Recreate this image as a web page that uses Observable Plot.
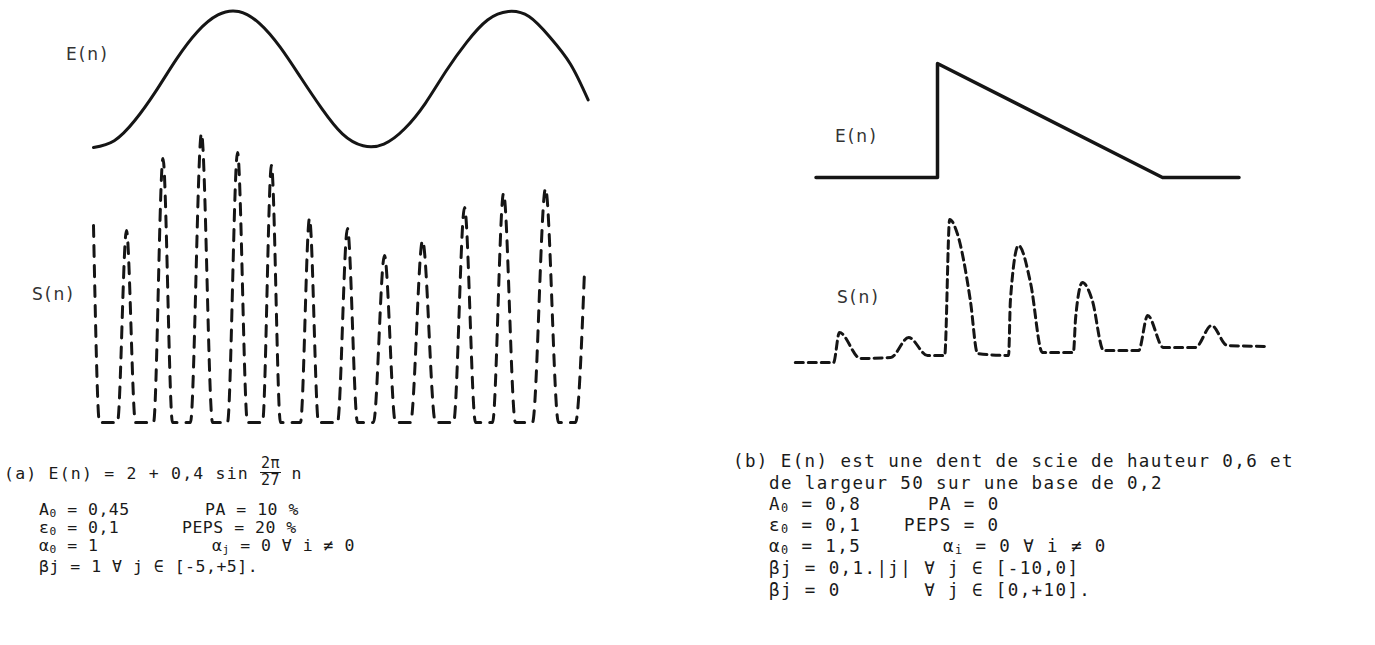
<!DOCTYPE html>
<html><head><meta charset="utf-8">
<script src="https://cdn.jsdelivr.net/npm/d3@7"></script>
<script src="https://cdn.jsdelivr.net/npm/@observablehq/plot@0.6"></script>
<style>
body{margin:0;background:#fff;width:1375px;height:645px;overflow:hidden;position:relative;color:#1a1a1a}
.lbl{position:absolute;font-family:"DejaVu Sans",sans-serif;font-size:17px;letter-spacing:2px;color:#333;line-height:1}
.cap{position:absolute;font-family:"DejaVu Sans Mono",monospace;white-space:pre;line-height:1;color:#1a1a1a}
.capL{font-size:16.5px;letter-spacing:0.5px}
.capR{font-size:17.5px;letter-spacing:1.4px}
.wide{letter-spacing:1.2px}
sub{font-size:0.68em;vertical-align:baseline;position:relative;top:0.2em;line-height:0}
.frac{display:inline-block;vertical-align:middle;text-align:center;font-size:15px;line-height:1.05;position:relative;top:-2px}
.frac span{display:block}
.frac .num{border-bottom:1.5px solid #1a1a1a;padding:0 1px}
</style></head><body>
<script>
// ---- Panel (a): E(n) sine input ----
const aEn = [0, 2, 4, 6, 8, 10, 12, 14, 16, 18, 20, 22, 24, 26, 28, 30, 32, 34, 36, 38, 40, 42, 44, 46, 47.7];
const aEv = [1.60, 1.64, 1.76, 1.93, 2.12, 2.28, 2.38, 2.40, 2.33, 2.19, 2.01, 1.83, 1.68, 1.61, 1.62, 1.71, 1.86, 2.05, 2.22, 2.35, 2.40, 2.37, 2.25, 2.09, 1.88];
// ---- Panel (a): S(n) dashed output ----
const aSn = [0, 0.58, 2.31, 3.18, 4.05, 5.79, 6.70, 7.62, 9.35, 10.41, 11.48, 12.92, 13.89, 14.85, 16.30, 17.16, 18.03, 19.96, 20.83, 21.70, 23.53, 24.49, 25.46, 27.00, 28.06, 29.12, 30.57, 31.73, 32.98, 34.72, 35.78, 36.84, 38.48, 39.54, 40.69, 42.33, 43.59, 44.84, 46.48, 47.35];
const aSv = [1.97, 0, 0, 1.92, 0, 0, 2.64, 0, 0, 2.89, 0, 0, 2.70, 0, 0, 2.57, 0, 0, 2.04, 0, 0, 1.94, 0, 0, 1.67, 0, 0, 1.82, 0, 0, 2.15, 0, 0, 2.29, 0, 0, 2.34, 0, 0, 1.52];
// ---- Panel (b): E(n) sawtooth ----
const bEn = [-27, 0, 0, 50, 67];
const bEv = [0.2, 0.2, 0.8, 0.2, 0.2];
// ---- Panel (b): S(n) dashed output ----
const bSn = [-31.6, -23.1, -21.8, -17.1, -10.4, -6.4, -2.2, 1.6, 2.7, 4.4, 7.3, 8.9, 15.8, 16.2, 18.0, 20.7, 23.3, 30.2, 30.7, 32.2, 34.4, 36.9, 44.7, 46.7, 50.2, 57.3, 60.9, 64.4, 73.6];
const bSv = [0, 0, 0.30, 0.04, 0.05, 0.25, 0.07, 0.07, 1.43, 1.29, 0.62, 0.09, 0.07, 0.62, 1.17, 0.79, 0.10, 0.10, 0.45, 0.80, 0.62, 0.12, 0.12, 0.47, 0.15, 0.15, 0.37, 0.17, 0.16];

// ---- texts ----
const seriesLabels = [
  {t: "E(n)", x: 66, y: 55},
  {t: "S(n)", x: 32, y: 295},
  {t: "E(n)", x: 835, y: 137},
  {t: "S(n)", x: 837, y: 298}
];
const capA = [
  {h: "<span class='wide'>(a) E(n) = 2 + 0,4 sin </span><span class='frac'><span class='num'>2π</span><span>27</span></span> n", x: 4, y: 467},
  {h: "A<sub>0</sub> = 0,45", x: 39, y: 511},
  {h: "PA = 10 %", x: 205, y: 511},
  {h: "ε<sub>0</sub> = 0,1", x: 39, y: 529},
  {h: "PEPS = 20 %", x: 182, y: 529},
  {h: "α<sub>0</sub> = 1", x: 39, y: 547},
  {h: "α<sub>j</sub> = 0 ∀ i ≠ 0", x: 212, y: 547},
  {h: "βj = 1 ∀ j ∈ [-5,+5].", x: 39, y: 568}
];
const capB = [
  {h: "(b) E(n) est une dent de scie de hauteur 0,6 et", x: 733, y: 462},
  {h: "de largeur 50 sur une base de 0,2", x: 769, y: 484},
  {h: "A<sub>0</sub> = 0,8", x: 769, y: 505},
  {h: "PA = 0", x: 928, y: 505},
  {h: "ε<sub>0</sub> = 0,1", x: 769, y: 526},
  {h: "PEPS = 0", x: 904, y: 526},
  {h: "α<sub>0</sub> = 1,5", x: 769, y: 547},
  {h: "α<sub>i</sub> = 0 ∀ i ≠ 0", x: 943, y: 547},
  {h: "βj = 0,1.|j| ∀ j ∈ [-10,0]", x: 769, y: 569},
  {h: "βj = 0       ∀ j ∈ [0,+10].", x: 769, y: 591}
];

const ink = "#151515";
function place(el, left, top) {
  el.style.position = "absolute";
  el.style.left = left + "px";
  el.style.top = top + "px";
  document.body.appendChild(el);
}
const base = {style: {background: "none", overflow: "visible"}};

// Panel (a) E
place(Plot.plot({...base, width: 620, height: 165, marginLeft: 93, marginRight: 29.24, marginTop: 11, marginBottom: 18,
  x: {domain: [0, 48], axis: null}, y: {domain: [1.6, 2.4], axis: null},
  marks: [Plot.line(aEn.map((n, i) => ({n, v: aEv[i]})), {x: "n", y: "v", stroke: ink, strokeWidth: 3, curve: "natural"})]
}), 0, 0);
// Panel (a) S
place(Plot.plot({...base, width: 620, height: 345, marginLeft: 93, marginRight: 29.24, marginTop: 32, marginBottom: 13,
  x: {domain: [0, 48], axis: null}, y: {domain: [0, 3], axis: null},
  marks: [Plot.line(aSn.map((n, i) => ({n, v: aSv[i]})), {x: "n", y: "v", stroke: ink, strokeWidth: 3, strokeDasharray: "11,9", curve: "monotone-x"})]
}), 0, 90);
// Panel (b) E
place(Plot.plot({...base, width: 500, height: 150, marginLeft: 13, marginRight: 10, marginTop: 23, marginBottom: 13,
  x: {domain: [-32, 74], axis: null}, y: {domain: [0.2, 0.8], axis: null},
  marks: [Plot.line(bEn.map((n, i) => ({n, v: bEv[i]})), {x: "n", y: "v", stroke: ink, strokeWidth: 3.5})]
}), 780, 40);
// Panel (b) S
place(Plot.plot({...base, width: 500, height: 180, marginLeft: 13, marginRight: 10, marginTop: 17, marginBottom: 13,
  x: {domain: [-32, 74], axis: null}, y: {domain: [0, 1.5], axis: null},
  marks: [Plot.line(bSn.map((n, i) => ({n, v: bSv[i]})), {x: "n", y: "v", stroke: ink, strokeWidth: 3, strokeDasharray: "8,5", curve: "monotone-x"})]
}), 780, 195);

for (const d of seriesLabels) {
  const el = document.createElement("div");
  el.className = "lbl"; el.textContent = d.t;
  place(el, d.x, d.y - 9);
}
for (const [arr, cls] of [[capA, "capL"], [capB, "capR"]]) {
  for (const d of arr) {
    const el = document.createElement("div");
    el.className = "cap " + cls; el.innerHTML = d.h;
    place(el, d.x, d.y - 9);
  }
}
</script>
</body></html>
